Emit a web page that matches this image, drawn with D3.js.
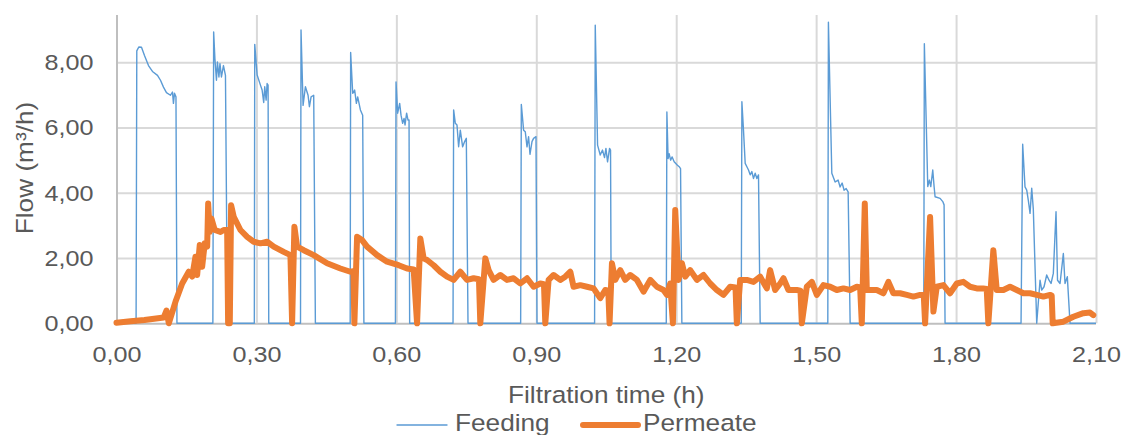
<!DOCTYPE html>
<html lang="en">
<head>
<meta charset="UTF-8">
<title>Feeding and permeate flow</title>
<style>
    body { margin: 0; background: #fff; }
    svg { display: block; }
    text { font-family: "Liberation Sans", Arial, sans-serif; fill: #595959; }
</style>
</head>
<body>
<svg id="chart"></svg>
<script src="https://cdn.jsdelivr.net/npm/d3@7/dist/d3.min.js"></script>
<script>
// x ticks (h) and y ticks (m3/h)
const xTicks = [0, 0.3, 0.6, 0.9, 1.2, 1.5, 1.8, 2.1]
const yTicks = [0, 2, 4, 6, 8]

// Feeding flow, [time h, flow m3/h]
const feeding = [
    [0, 0], [0.042, 0], [0.0435, 8.35], [0.0478, 8.47], [0.0536, 8.46], [0.06, 8.21], [0.0686, 7.9], [0.0771, 7.72],
    [0.0879, 7.6], [0.0943, 7.45], [0.1007, 7.24], [0.1071, 7.07], [0.1157, 6.99], [0.12, 7.09], [0.1221, 6.74],
    [0.1243, 7.05], [0.1275, 6.94], [0.1296, 0],
    [0.2066, 0], [0.2083, 8.93], [0.211, 8.11], [0.2143, 7.45], [0.2164, 8.01], [0.2196, 7.55], [0.2218, 7.96],
    [0.225, 7.55], [0.2293, 7.9], [0.2336, 7.6], [0.2379, 0],
    [0.2955, 0], [0.2964, 8.55], [0.3015, 7.61], [0.3086, 7.3], [0.3122, 7.15], [0.3156, 6.77], [0.3178, 7.25],
    [0.3208, 6.84], [0.3229, 7.35], [0.325, 7.3], [0.3264, 0],
    [0.3945, 0], [0.3956, 8.99], [0.4, 6.68], [0.405, 7.25], [0.4107, 6.99], [0.4136, 6.64], [0.4172, 6.94],
    [0.4228, 6.99], [0.4264, 0],
    [0.501, 0], [0.502, 8.3], [0.5064, 7.05], [0.5106, 7.15], [0.5143, 6.74], [0.5171, 6.94], [0.5229, 6.54],
    [0.5278, 6.38], [0.5304, 0],
    [0.598, 0], [0.5993, 7.4], [0.6028, 6.44], [0.6071, 6.74], [0.61, 6.38], [0.6135, 6.13], [0.6165, 6.28],
    [0.6186, 6.08], [0.622, 6.44], [0.625, 6.23], [0.6272, 6.23], [0.6285, 0],
    [0.7215, 0], [0.7228, 6.54], [0.7264, 6.13], [0.73, 6.08], [0.7335, 5.41], [0.7371, 5.92], [0.7421, 5.41],
    [0.7464, 5.57], [0.75, 5.67], [0.7536, 0],
    [0.8665, 0], [0.8679, 6.71], [0.8728, 5.92], [0.8764, 5.87], [0.8801, 5.41], [0.8835, 5.72], [0.8865, 5.18],
    [0.8908, 5.57], [0.8942, 5.67], [0.8994, 5.72], [0.9015, 0],
    [1.025, 0], [1.0264, 9.14], [1.0314, 5.46], [1.0371, 5.16], [1.042, 5.31], [1.0463, 5.08], [1.0493, 5.36],
    [1.0528, 4.95], [1.0571, 5.36], [1.0592, 5.31], [1.0607, 0],
    [1.1787, 0], [1.18, 6.48], [1.1826, 5.05], [1.1848, 5.2], [1.188, 5.0], [1.1913, 5.1], [1.1956, 4.95],
    [1.2021, 4.85], [1.2064, 4.8], [1.2093, 4.74], [1.2121, 0],
    [1.3394, 0], [1.3408, 6.79], [1.3442, 5.93], [1.3479, 4.9], [1.3515, 4.8], [1.355, 4.7], [1.3586, 4.55],
    [1.3622, 4.65], [1.3656, 4.44], [1.3693, 4.6], [1.3729, 4.44], [1.3764, 4.55], [1.38, 0],
    [1.525, 0], [1.5263, 9.23], [1.5336, 4.6], [1.5407, 4.33], [1.5471, 4.39], [1.5514, 4.18], [1.5557, 4.3],
    [1.56, 4.08], [1.5643, 4.13], [1.5686, 4.03], [1.5729, 0],
    [1.7307, 0], [1.732, 8.57], [1.7393, 4.19], [1.7428, 4.39], [1.7458, 4.19], [1.75, 4.7], [1.7529, 4.19],
    [1.755, 3.88], [1.7657, 3.83], [1.7715, 3.73], [1.7743, 3.63], [1.7764, 0],
    [1.9393, 0], [1.9428, 5.49], [1.9478, 4.18], [1.9515, 4.08], [1.9549, 3.77], [1.9586, 3.37], [1.9622, 4.14],
    [1.9656, 3.5], [1.9729, 0], [1.98, 1.32], [1.9836, 1.02], [1.9886, 1.12], [1.9943, 1.48], [1.9993, 1.32],
    [2.0036, 1.22], [2.0085, 1.53], [2.0143, 3.42], [2.0175, 1.32], [2.0229, 1.22], [2.03, 2.14], [2.0336, 1.22],
    [2.0385, 1.43], [2.0443, 0], [2.1, 0]
]

// Permeate flow, [time h, flow m3/h]
const permeate = [
    [0, 0.02], [0.03, 0.06], [0.06, 0.1], [0.1014, 0.18], [0.1071, 0.39], [0.1121, 0], [0.1264, 0.66],
    [0.1408, 1.22], [0.1549, 1.58], [0.1622, 1.43], [0.1693, 2.04], [0.1729, 1.48], [0.1785, 2.4], [0.1836, 1.73],
    [0.1892, 2.45], [0.1944, 2.35], [0.1965, 3.67], [0.1999, 2.8], [0.2036, 3.21], [0.2106, 2.86], [0.2229, 2.8],
    [0.2299, 2.86], [0.2372, 2.86], [0.2393, 0], [0.2429, 0], [0.2457, 3.62], [0.2514, 3.26], [0.2657, 2.86],
    [0.2801, 2.65], [0.2942, 2.5], [0.3086, 2.45], [0.3229, 2.5], [0.3371, 2.35], [0.3585, 2.19], [0.3729, 2.09],
    [0.3765, 0], [0.3814, 2.96], [0.3872, 2.35], [0.4014, 2.24], [0.4228, 2.09], [0.4515, 1.84], [0.48, 1.68],
    [0.5014, 1.58], [0.5079, 1.6], [0.51, 0], [0.5158, 2.65], [0.5265, 2.55], [0.5372, 2.35], [0.5586, 2.09],
    [0.5801, 1.89], [0.6049, 1.78], [0.6229, 1.68], [0.6371, 1.65], [0.6444, 0], [0.6514, 2.6], [0.6585, 1.99],
    [0.6658, 1.94], [0.6799, 1.78], [0.6943, 1.58], [0.7086, 1.43], [0.7228, 1.33], [0.7371, 1.58], [0.7515, 1.33],
    [0.7656, 1.38], [0.7771, 1.35], [0.78, 0], [0.7907, 1.99], [0.7978, 1.63], [0.8085, 1.33], [0.8229, 1.48],
    [0.8372, 1.33], [0.8514, 1.38], [0.8657, 1.22], [0.8801, 1.38], [0.8942, 1.12], [0.9086, 1.22], [0.9165, 1.2],
    [0.9193, 0], [0.9264, 1.33], [0.9371, 1.48], [0.9514, 1.33], [0.9621, 1.43], [0.9729, 1.58], [0.9799, 1.12],
    [0.9943, 1.17], [1.0086, 1.12], [1.0228, 1.07], [1.0371, 0.77], [1.0479, 1.02], [1.0543, 1.0], [1.0571, 0],
    [1.0622, 1.84], [1.0693, 1.33], [1.08, 1.63], [1.0907, 1.33], [1.1014, 1.48], [1.1158, 1.33], [1.1299, 0.97],
    [1.1443, 1.33], [1.1586, 1.12], [1.1728, 1.02], [1.18, 0.87], [1.1871, 1.22], [1.1929, 0], [1.1979, 3.47],
    [1.2049, 1.33], [1.2122, 1.84], [1.2193, 1.43], [1.23, 1.63], [1.2444, 1.33], [1.2585, 1.48], [1.2729, 1.22],
    [1.2872, 1.02], [1.3013, 0.87], [1.3157, 1.12], [1.3271, 1.1], [1.33, 0], [1.3371, 1.33], [1.3515, 1.33],
    [1.3656, 1.27], [1.38, 1.43], [1.3943, 1.07], [1.4014, 1.63], [1.4121, 1.02], [1.4229, 1.22], [1.4299, 1.38],
    [1.4406, 1.02], [1.4586, 1.02], [1.4664, 1.0], [1.4693, 0], [1.48, 1.12], [1.4908, 1.27], [1.5015, 0.87],
    [1.5156, 1.17], [1.53, 1.12], [1.5443, 1.02], [1.5585, 1.07], [1.5729, 1.02], [1.5872, 1.12], [1.5943, 1.1],
    [1.5979, 0], [1.6043, 3.67], [1.6086, 1.02], [1.6157, 1.02], [1.63, 1.02], [1.6442, 0.92], [1.6549, 1.27],
    [1.6656, 0.92], [1.68, 0.92], [1.6944, 0.87], [1.7085, 0.82], [1.7229, 0.87], [1.7307, 0.87], [1.7336, 0],
    [1.7443, 3.26], [1.7514, 0.36], [1.7586, 1.12], [1.7728, 1.17], [1.7871, 0.92], [1.8015, 1.22], [1.8156, 1.27],
    [1.83, 1.12], [1.8443, 1.07], [1.8578, 1.07], [1.8657, 1.05], [1.8692, 0], [1.8799, 2.24], [1.8872, 1.02],
    [1.9014, 1.02], [1.9157, 1.12], [1.93, 1.02], [1.9442, 0.92], [1.9586, 0.92], [1.9729, 0.87], [1.9871, 0.82],
    [2.0014, 0.87], [2.005, 0.85], [2.0072, 0], [2.03, 0.05], [2.0514, 0.2], [2.0728, 0.31], [2.0871, 0.33],
    [2.0942, 0.25]
]

const width = 1129, height = 435
const plotLeft = 116.5, plotRight = 1096, plotTop = 15, plotBottom = 323.3

let svg = d3.select('#chart').attr('width', width).attr('height', height)

let x = d3.scaleLinear().domain([0, 2.1]).range([plotLeft, plotRight])
let y = d3.scaleLinear().domain([0, 9.45]).range([plotBottom, plotTop])

const fmt = d3.formatLocale({decimal: ',', thousands: '.', grouping: [3], currency: ['', '']}).format('.2f')

// y gridlines + labels
let gy = svg.append('g')
    .attr('transform', `translate(${plotLeft},0)`)
    .call(d3.axisLeft(y).tickValues(yTicks).tickSize(-(plotRight - plotLeft)).tickPadding(20.5).tickFormat(fmt))
gy.select('.domain').remove()
gy.selectAll('.tick line').attr('stroke', d => d === 0 ? '#bfbfbf' : '#d9d9d9').attr('stroke-width', 2)
gy.selectAll('.tick text').attr('font-size', 22.5).attr('transform', 'scale(1.12,1)')
    .attr('fill', '#595959').attr('font-family', null)

// x gridlines + labels
let gx = svg.append('g')
    .attr('transform', `translate(0,${plotBottom})`)
    .call(d3.axisBottom(x).tickValues(xTicks).tickSize(-(plotBottom - plotTop)).tickPadding(23).tickFormat(fmt))
gx.select('.domain').remove()
gx.selectAll('.tick line').attr('stroke', d => d === 0 ? '#bfbfbf' : '#d9d9d9').attr('stroke-width', 2)
gx.selectAll('.tick text').attr('font-size', 22.5).attr('transform', 'scale(1.12,1)')
    .attr('fill', '#595959').attr('font-family', null)

let line = d3.line().x(d => x(d[0])).y(d => y(d[1]))

svg.append('path').datum(feeding)
    .attr('d', line)
    .attr('fill', 'none')
    .attr('stroke', '#5B9BD5')
    .attr('stroke-width', 1.4)
    .attr('stroke-linejoin', 'round')

svg.append('path').datum(permeate)
    .attr('d', line)
    .attr('fill', 'none')
    .attr('stroke', '#ED7D31')
    .attr('stroke-width', 6)
    .attr('stroke-linejoin', 'round')
    .attr('stroke-linecap', 'round')

// axis titles
svg.append('text')
    .attr('transform', `translate(${(plotLeft + plotRight) / 2},403.3) scale(1.07,1)`)
    .attr('text-anchor', 'middle')
    .attr('font-size', 24.5)
    .text('Filtration time (h)')

svg.append('text')
    .attr('transform', `translate(33,168) rotate(-90) scale(1.07,1)`)
    .attr('text-anchor', 'middle')
    .attr('font-size', 24.5)
    .text('Flow (m³/h)')

// legend
const legend = [
    {name: 'Feeding', color: '#5B9BD5', w: 1.4, x1: 397, x2: 447, tx: 455},
    {name: 'Permeate', color: '#ED7D31', w: 6, x1: 583, x2: 638, tx: 643}
]
let lg = svg.append('g')
lg.selectAll('line').data(legend).enter().append('line')
    .attr('x1', d => d.x1).attr('x2', d => d.x2)
    .attr('y1', 425).attr('y2', 425)
    .attr('stroke', d => d.color)
    .attr('stroke-width', d => d.w)
    .attr('stroke-linecap', 'round')
lg.selectAll('text').data(legend).enter().append('text')
    .attr('transform', d => `translate(${d.tx},431) scale(1.07,1)`)
    .attr('font-size', 24.5)
    .text(d => d.name)
</script>
</body>
</html>
